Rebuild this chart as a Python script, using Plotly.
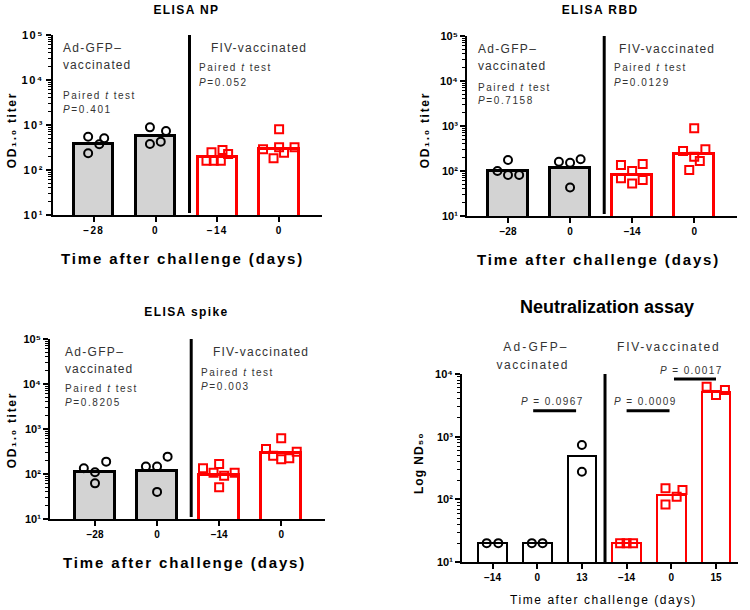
import json
import plotly.graph_objects as go

W, H = 750, 610

# ---------------- data ----------------
elisa_ticks = ["−28", "0", "−14", "0"]

np_ad_bar = [372, 560]
np_ad_pts = [[550, 506, 372, 235], [887, 736, 378, 427]]
np_fiv_bar = [192, 288]
np_fiv_pts = [[247, 278, 227, 161, 161, 161], [802, 288, 319, 319, 242, 182]]

rbd_ad_bar = [100, 115]
rbd_ad_pts = [[100, 176, 81.5, 81.5], [161, 153, 182, 43]]
rbd_fiv_bar = [82, 239]
rbd_fiv_pts = [[136, 143, 100, 69, 63, 53], [887, 278, 303, 208, 167, 105]]

spk_ad_bar = [109, 117]
spk_ad_pts = [[134, 109, 188, 62], [146, 146, 243, 40]]
spk_fiv_bar = [95, 288]
spk_fiv_pts = [[134, 167, 107, 92, 107, 51], [621, 359, 255, 212, 223, 313]]

neu_ticks = ["−14", "0", "13", "−14", "0", "15"]
neu_ad_bar = [20, 20, 490]
neu_ad_pts = [[20, 20], [20, 20], [736, 276]]
neu_fiv_bar = [20, 117, 5110]
neu_fiv_pts = [[20, 20, 20], [150, 141, 110, 83], [6270, 5560, 4630]]
neu_p = ["0.0967", "0.0009", "0.0017"]

SUP = "⁰¹²³⁴⁵⁶⁷⁸⁹"
elisa_yticks = ["10" + SUP[k] for k in range(1, 6)]
neu_yticks = ["10" + SUP[k] for k in range(1, 5)]

# jitter offsets of the dots (category units)
np_ad_jit = [[-0.09, 0.17, 0.09, -0.09], [-0.09, 0.17, -0.09, 0.085]]
np_fiv_jit = [[-0.094, 0.084, 0.175, -0.175, -0.057, 0.057], [0, -0.26, 0, 0.25, 0.08, -0.09]]
rbd_ad_jit = [[-0.17, 0, 0, 0.18], [-0.18, 0, 0.17, 0]]
rbd_fiv_jit = [[-0.18, 0.17, 0, -0.18, 0.17, 0], [0, -0.18, 0.18, 0, 0.09, -0.08]]
spk_ad_jit = [[-0.18, 0, 0.18, 0], [-0.18, 0, 0.17, 0]]
spk_fiv_jit = [[-0.26, 0, -0.09, 0.08, 0.25, 0], [0, -0.245, -0.13, 0, 0.13, 0.25]]
neu_ad_jit = [[-0.13, 0.13], [-0.12, 0.12], [0, 0]]
neu_fiv_jit = [[-0.145, 0, 0.145], [-0.13, 0.25, 0.12, -0.13], [-0.21, 0.2, 0]]

RED = "#ff0000"
GRAY = "#d3d3d3"
TXT = "#333333"
FONT = "Liberation Sans, Arial, DejaVu Sans, sans-serif"

fig = go.Figure()


def px_x(px):
    return px / W


def px_y(py):
    return 1 - py / H


def add_group(ax, xs, bars, pts, jit, fill, color, symbol, lw, msize):
    xa = "x" if ax == 1 else f"x{ax}"
    ya = "y" if ax == 1 else f"y{ax}"
    fig.add_trace(go.Bar(x=xs, y=bars, width=0.64, marker=dict(color=fill, line=dict(color=color, width=lw)),
                         xaxis=xa, yaxis=ya, showlegend=False, hoverinfo="skip"))
    for x0, p, j in zip(xs, pts, jit):
        fig.add_trace(go.Scatter(x=[x0 + d for d in j], y=p, mode="markers",
                                 marker=dict(symbol=symbol, size=msize, color=color,
                                             line=dict(color=color, width=2)),
                                 xaxis=xa, yaxis=ya, showlegend=False, hoverinfo="skip"))


# panel geometry in pixels: (x_left, x_right, y_top, y_bottom, first center px, spacing px)
panels = {
    1: (53, 322, 35, 215, 93.7, 61.8),
    2: (467, 737, 36, 216, 508, 62.07),
    3: (50, 325, 339, 519, 95, 62.07),
    4: (462, 738, 374, 562, 492.5, 44.7),
}

elisa = {
    1: (np_ad_bar, np_ad_pts, np_ad_jit, np_fiv_bar, np_fiv_pts, np_fiv_jit),
    2: (rbd_ad_bar, rbd_ad_pts, rbd_ad_jit, rbd_fiv_bar, rbd_fiv_pts, rbd_fiv_jit),
    3: (spk_ad_bar, spk_ad_pts, spk_ad_jit, spk_fiv_bar, spk_fiv_pts, spk_fiv_jit),
}
for ax, (ab, ap, aj, fb, fp, fj) in elisa.items():
    add_group(ax, [0, 1], ab, ap, aj, GRAY, "black", "circle-open", 3, 8)
    add_group(ax, [2, 3], fb, fp, fj, "white", RED, "square-open", 3, 8)

add_group(4, [0, 1, 2], neu_ad_bar, neu_ad_pts, neu_ad_jit, "white", "black", "circle-open", 2, 8)
add_group(4, [3, 4, 5], neu_fiv_bar, neu_fiv_pts, neu_fiv_jit, "white", RED, "square-open", 2, 8)

layout = dict(width=W, height=H, margin=dict(l=0, r=0, t=0, b=0, pad=0), autosize=False,
              paper_bgcolor="white", plot_bgcolor="white", bargap=0, showlegend=False,
              font=dict(family=FONT, color="black"))

tick_font = dict(family=FONT, size=10, color="black", weight="bold")
shapes = []
annotations = []
spacing = []

for ax, (xl, xr, yt, yb, c0, sp) in panels.items():
    n = 4 if ax < 4 else 6
    xname = "xaxis" if ax == 1 else f"xaxis{ax}"
    yname = "yaxis" if ax == 1 else f"yaxis{ax}"
    xa = "x" if ax == 1 else f"x{ax}"
    ya = "y" if ax == 1 else f"y{ax}"
    top_dec = 5 if ax < 4 else 4
    layout[xname] = dict(domain=[px_x(xl), px_x(xr)], anchor=ya, automargin=False,
                         range=[-(c0 - xl) / sp, (xr - c0) / sp],
                         tickvals=list(range(n)), ticktext=elisa_ticks if ax < 4 else neu_ticks,
                         showline=True, linecolor="black", linewidth=2, ticks="outside", ticklen=5,
                         tickwidth=1.5, tickcolor="black", tickfont=tick_font, showgrid=False,
                         zeroline=False, fixedrange=True)
    layout[yname] = dict(domain=[px_y(yb), px_y(yt)], anchor=xa, type="log", range=[1, top_dec],
                         automargin=False,
                         tickvals=[10 ** k for k in range(1, top_dec + 1)],
                         ticktext=elisa_yticks if ax < 4 else neu_yticks,
                         showline=True, linecolor="black", linewidth=2, ticks="outside", ticklen=5,
                         tickwidth=1.5, tickcolor="black",
                         tickfont=dict(family=FONT, size=11, color="black", weight="bold"),
                         minor=dict(ticks="outside", ticklen=3, tickwidth=1, tickcolor="black", dtick="D1",
                                    showgrid=False),
                         showgrid=False, zeroline=False, fixedrange=True)
    xdiv = 1.55 if ax < 4 else 2.517
    ybot = 0.011 if ax < 4 else 0.0
    shapes.append(dict(type="line", xref=xa, yref=f"{ya} domain", x0=xdiv, x1=xdiv, y0=ybot, y1=1.0,
                       line=dict(color="black", width=3)))


def ann(text, x, y, size, bold=False, color="black", xanchor="center", angle=0, ls=0.0):
    annotations.append(dict(text=text, x=px_x(x), y=px_y(y), xref="paper", yref="paper", showarrow=False,
                            xanchor=xanchor, yanchor="middle", textangle=angle,
                            align="left" if xanchor == "left" else "center",
                            font=dict(family=FONT, size=size, color=color, weight="bold" if bold else "normal")))
    spacing.append(ls)


for (t, x, y) in [("ELISA NP", 186, 10), ("ELISA RBD", 600, 10), ("ELISA spike", 186, 312)]:
    ann(t, x, y, 12, bold=True, ls=1.4)
ann("Neutralization assay", 607, 307, 18, bold=True)

for (x, y) in [(182, 258), (598, 259), (184, 562)]:
    ann("Time after challenge (days)", x, y, 15, bold=True, ls=1.85)
ann("Time after challenge (days)", 603, 600, 12, ls=1.55)

for (x, y) in [(12, 130), (425, 130), (12, 430)]:
    ann("OD₁.₀ titer", x, y, 12, bold=True, angle=-90, ls=1.7)
ann("Log ND₅₀", 419, 463, 12, bold=True, angle=-90, ls=1.0)

elisa_text = [
    (61, 48, 95, "0.401", 209, 197, 48, 68, "0.052"),
    (476, 49, 87, "0.7158", 617, 612, 49, 68, "0.0129"),
    (63, 352, 388, "0.8205", 211, 199, 352, 372, "0.003"),
]
for (ax_, ay, apy, pa, fx, fpx, fy, fpy, pf) in elisa_text:
    ann("Ad-GFP–", ax_, ay, 12, color=TXT, xanchor="left", ls=1.3)
    ann("vaccinated", ax_, ay + 17, 12, color=TXT, xanchor="left", ls=1.1)
    ann("Paired <i>t</i> test", ax_, apy, 10, color=TXT, xanchor="left", ls=1.5)
    ann("<i>P</i>=" + pa, ax_, apy + 14, 10, color=TXT, xanchor="left", ls=1.6)
    ann("FIV-vaccinated", fx, fy, 12, color=TXT, xanchor="left", ls=1.2)
    ann("Paired <i>t</i> test", fpx, fpy, 10, color=TXT, xanchor="left", ls=1.5)
    ann("<i>P</i>=" + pf, fpx, fpy + 14, 10, color=TXT, xanchor="left", ls=1.6)

ann("Ad-GFP–", 536, 347, 12, color=TXT, ls=2.2)
ann("vaccinated", 532, 365, 12, color=TXT, ls=1.5)
ann("FIV-vaccinated", 668, 347, 12, color=TXT, ls=1.7)

sig = [(0.91, 1.87, 0.805, 1.34, 0.853), (3.0, 3.96, 0.805, 3.43, 0.853), (4.06, 5.0, 0.973, 4.46, 1.016)]
for (x0, x1, yl, xt, yt), p in zip(sig, neu_p):
    shapes.append(dict(type="line", xref="x4", yref="y4 domain", x0=x0, x1=x1, y0=yl, y1=yl,
                       line=dict(color="black", width=3)))
    annotations.append(dict(text=f"<i>P</i> = {p}", x=xt, y=yt, xref="x4", yref="y4 domain", showarrow=False,
                            xanchor="center", yanchor="middle", font=dict(family=FONT, size=10, color=TXT)))
    spacing.append(1.4)

layout["shapes"] = shapes
layout["annotations"] = annotations
fig.update_layout(**layout)

post = """
document.body.style.margin = '0';
var gd = document.getElementById('{plot_id}');
var LS = %s;
function spaceText() {
  gd.querySelectorAll('g.annotation').forEach(function (g) {
    var i = +g.getAttribute('data-index');
    var t = g.querySelector('text.annotation-text');
    if (t && LS[i]) { t.style.letterSpacing = LS[i] + 'px'; }
  });
  gd.querySelectorAll('g.xtick text').forEach(function (t) { t.style.letterSpacing = '1.3px'; });
  gd.querySelectorAll('g.ytick text').forEach(function (t) { t.style.letterSpacing = '1.5px'; });
}
spaceText();
gd.on('plotly_afterplot', spaceText);
""" % json.dumps(spacing)

fig.write_html("out.html", post_script=post, config={"displayModeBar": False})
